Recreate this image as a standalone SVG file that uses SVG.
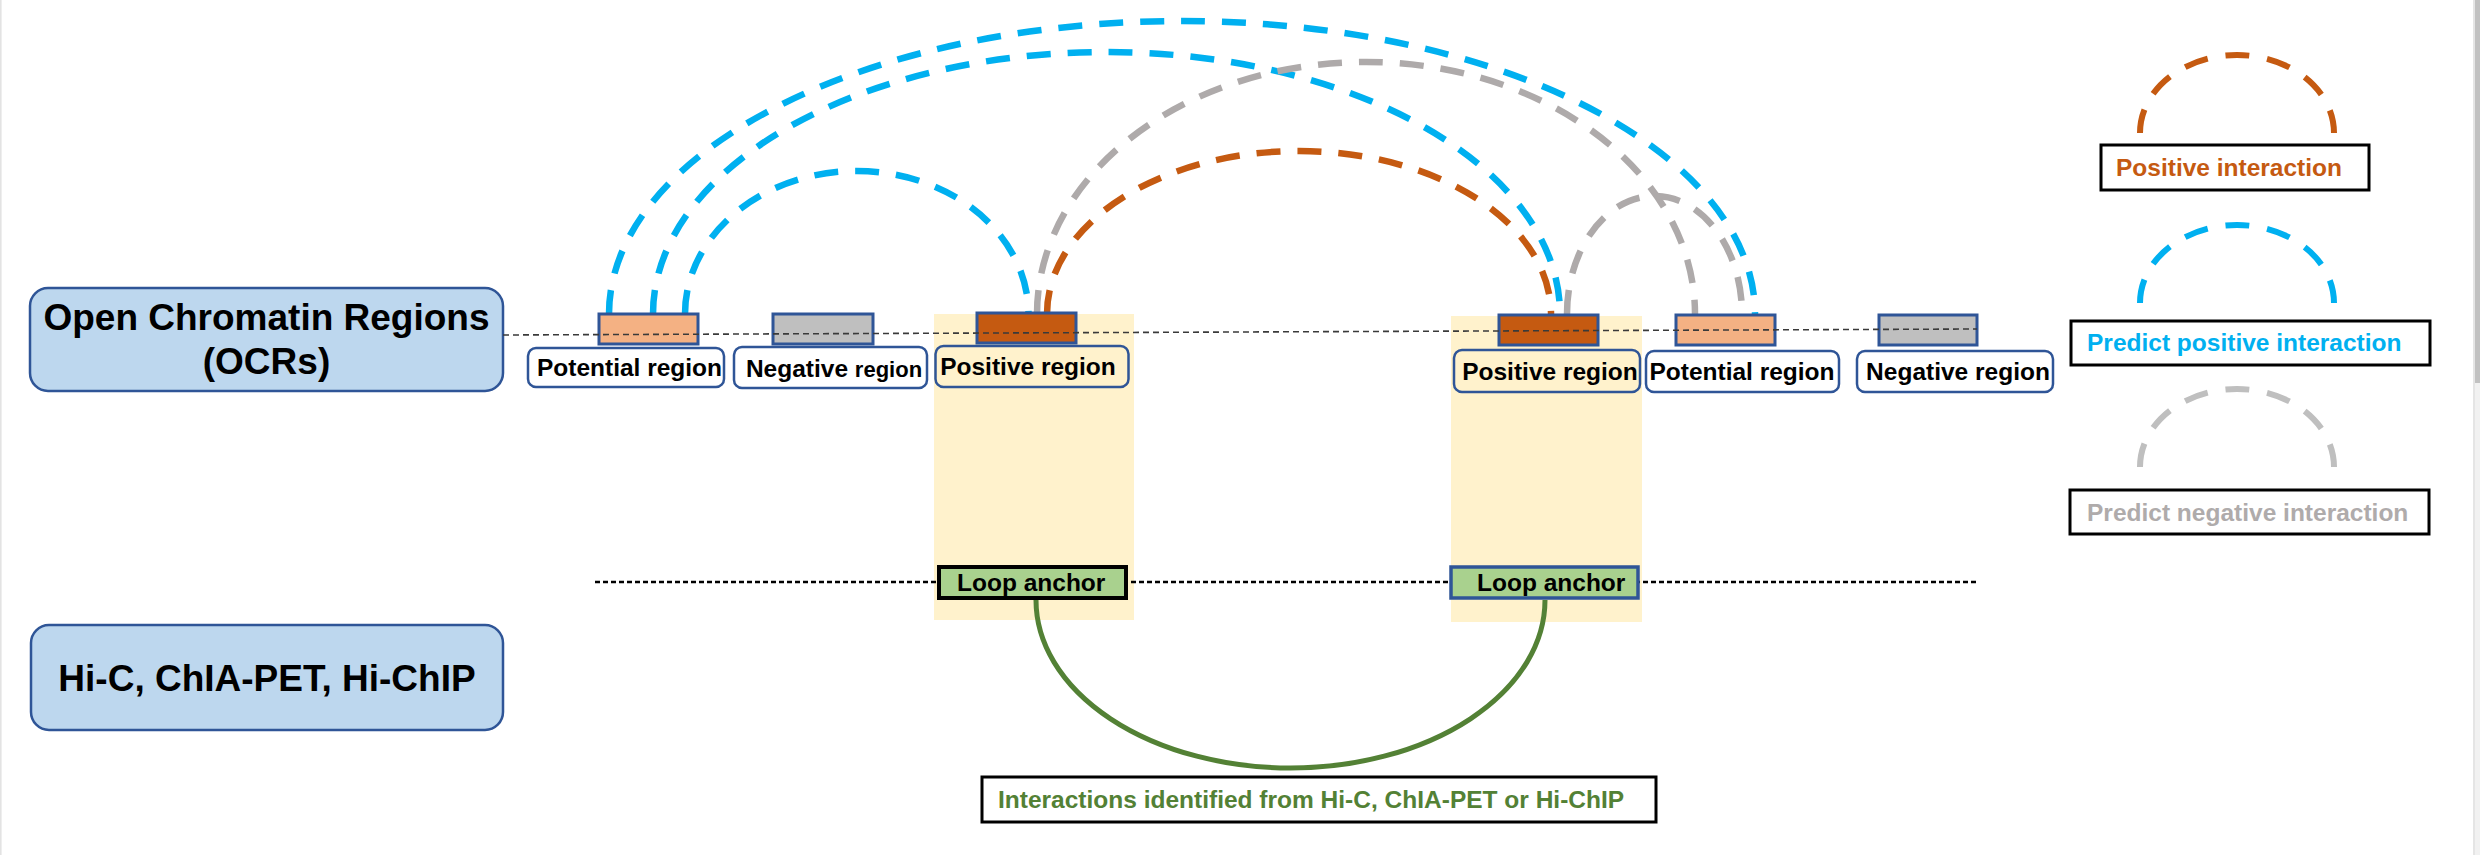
<svg xmlns="http://www.w3.org/2000/svg" width="2480" height="855" viewBox="0 0 2480 855">
<defs>
<style>
.t{font-family:"Liberation Sans",Arial,Helvetica,sans-serif;font-weight:bold}
.big{font-size:37px;fill:#000;text-anchor:middle}
.lbl{font-size:24.5px;fill:#000;text-anchor:middle}
.lg{font-size:24.5px}
.main{fill:#BDD7EE;stroke:#2F5597;stroke-width:2.5}
.reg{stroke:#2F5597;stroke-width:3}
.lab{stroke:#2F5597;stroke-width:2.5}
.arc{fill:none;stroke-width:6.5;stroke-dasharray:24 17}
.larc{fill:none;stroke-width:6;stroke-dasharray:24 18}
.box{fill:#fff;stroke:#000;stroke-width:3}
.blue{stroke:#00B0F0}
.gray{stroke:#AEAAAA}
.orange{stroke:#C55A11}
</style>
</defs>
<rect x="0" y="0" width="2480" height="855" fill="#fff"/>
<line x1="0.8" y1="0" x2="0.8" y2="855" stroke="#E3E3E3" stroke-width="1.6"/>
<rect x="2475" y="0" width="5" height="855" fill="#F1F1F1"/>
<rect x="2475" y="0" width="5" height="383" fill="#C1C1C1"/>
<line x1="2474" y1="0" x2="2474" y2="855" stroke="#DCDCDC" stroke-width="1.5"/>

<g id="columns">
<rect x="934" y="314" width="200" height="306" fill="#FFF2CC"/>
<rect x="1451" y="316" width="191" height="306" fill="#FFF2CC"/>
</g>

<g id="ocr">
<rect class="main" x="30" y="288" width="473" height="103" rx="18"/>
<text class="t big" x="266.5" y="330">Open Chromatin Regions</text>
<text class="t big" x="266.5" y="374">(OCRs)</text>
</g>
<g id="hic">
<rect class="main" x="31" y="625" width="472" height="105" rx="18"/>
<text class="t big" x="267" y="691">Hi-C, ChIA-PET, Hi-ChIP</text>
</g>

<g id="connectors">
<path class="arc blue" d="M609,314 A573,293 0 0 1 1755,314"/>
<path class="arc blue" d="M653,314 A453.5,262 0 0 1 1560,314"/>
<path class="arc blue" d="M685,314 A171.75,143 0 0 1 1028.5,314"/>
<path class="arc gray" d="M1037,314 A329,252 0 0 1 1695,314"/>
<path class="arc gray" d="M1567,314 A87.5,118 0 0 1 1742,314"/>
<path class="arc orange" d="M1047,314 A252,163 0 0 1 1551,314"/>
<path d="M1036,600 A254.5,168 0 0 0 1545,600" fill="none" stroke="#538135" stroke-width="5"/>
<line x1="595" y1="582" x2="1977" y2="582" stroke="#000" stroke-width="2.5" stroke-dasharray="5 3"/>
</g>

<g id="potential1"><rect class="reg" x="599" y="314" width="99" height="30" fill="#F4B183"/></g>
<g id="negative1"><rect class="reg" x="773" y="314" width="100" height="30" fill="#BFBFBF"/></g>
<g id="positive1"><rect class="reg" x="977" y="313" width="99" height="30" fill="#C55A11"/></g>
<g id="positive2"><rect class="reg" x="1499" y="315" width="99" height="30" fill="#C55A11"/></g>
<g id="potential2"><rect class="reg" x="1676" y="315" width="99" height="30" fill="#F4B183"/></g>
<g id="negative2"><rect class="reg" x="1879" y="315" width="98" height="30" fill="#BFBFBF"/></g>

<line id="ocr-axis" x1="503" y1="335" x2="1977" y2="329" stroke="#3A3A3A" stroke-width="1.6" stroke-dasharray="6 4"/>

<g id="label-potential1">
<rect class="lab" x="528" y="348" width="196" height="39" rx="8" fill="#fff"/>
<text class="t lbl" x="629.5" y="376">Potential region</text>
</g>
<g id="label-negative1">
<rect class="lab" x="734" y="347" width="193" height="41" rx="8" fill="#fff"/>
<text class="t lbl" x="834" y="377">Negative <tspan font-size="22">region</tspan></text>
</g>
<g id="label-positive1">
<rect class="lab" x="935.5" y="346" width="193" height="41" rx="8" fill="#FFF2CC"/>
<text class="t lbl" x="1028" y="375">Positive region</text>
</g>
<g id="label-positive2">
<rect class="lab" x="1454" y="350" width="186" height="42" rx="8" fill="#FFF2CC"/>
<text class="t lbl" x="1550" y="380">Positive region</text>
</g>
<g id="label-potential2">
<rect class="lab" x="1646" y="351" width="193" height="41" rx="8" fill="#fff"/>
<text class="t lbl" x="1742" y="380">Potential region</text>
</g>
<g id="label-negative2">
<rect class="lab" x="1857" y="351" width="196" height="41" rx="8" fill="#fff"/>
<text class="t lbl" x="1958" y="380">Negative region</text>
</g>

<g id="anchor1">
<rect x="939" y="567" width="187" height="31" fill="#A9D18E" stroke="#000" stroke-width="4"/>
<text class="t lg" x="957" y="591" fill="#000">Loop anchor</text>
</g>
<g id="anchor2">
<rect x="1451" y="567" width="187" height="31" fill="#A9D18E" stroke="#2F5597" stroke-width="3.5"/>
<text class="t lg" x="1477" y="591" fill="#000">Loop anchor</text>
</g>

<g id="interaction-label">
<rect class="box" x="982" y="777" width="674" height="45"/>
<text class="t lg" x="998" y="808" fill="#538135">Interactions identified from Hi-C, ChIA-PET or Hi-ChIP</text>
</g>

<g id="legend-positive">
<path class="larc orange" d="M2140,133 A97,78 0 0 1 2334,133"/>
<rect class="box" x="2101" y="145" width="268" height="45"/>
<text class="t lg" x="2116" y="176" fill="#C55A11">Positive interaction</text>
</g>
<g id="legend-predict-positive">
<path class="larc blue" d="M2140,303 A97,78 0 0 1 2334,303"/>
<rect class="box" x="2071" y="321" width="359" height="44"/>
<text class="t lg" x="2087" y="351" fill="#00B0F0">Predict positive interaction</text>
</g>
<g id="legend-predict-negative">
<path class="larc" stroke="#BFBFBF" d="M2140,467 A97,78 0 0 1 2334,467"/>
<rect class="box" x="2070" y="490" width="359" height="44"/>
<text class="t lg" x="2087" y="521" fill="#AFABAB">Predict negative interaction</text>
</g>
</svg>
